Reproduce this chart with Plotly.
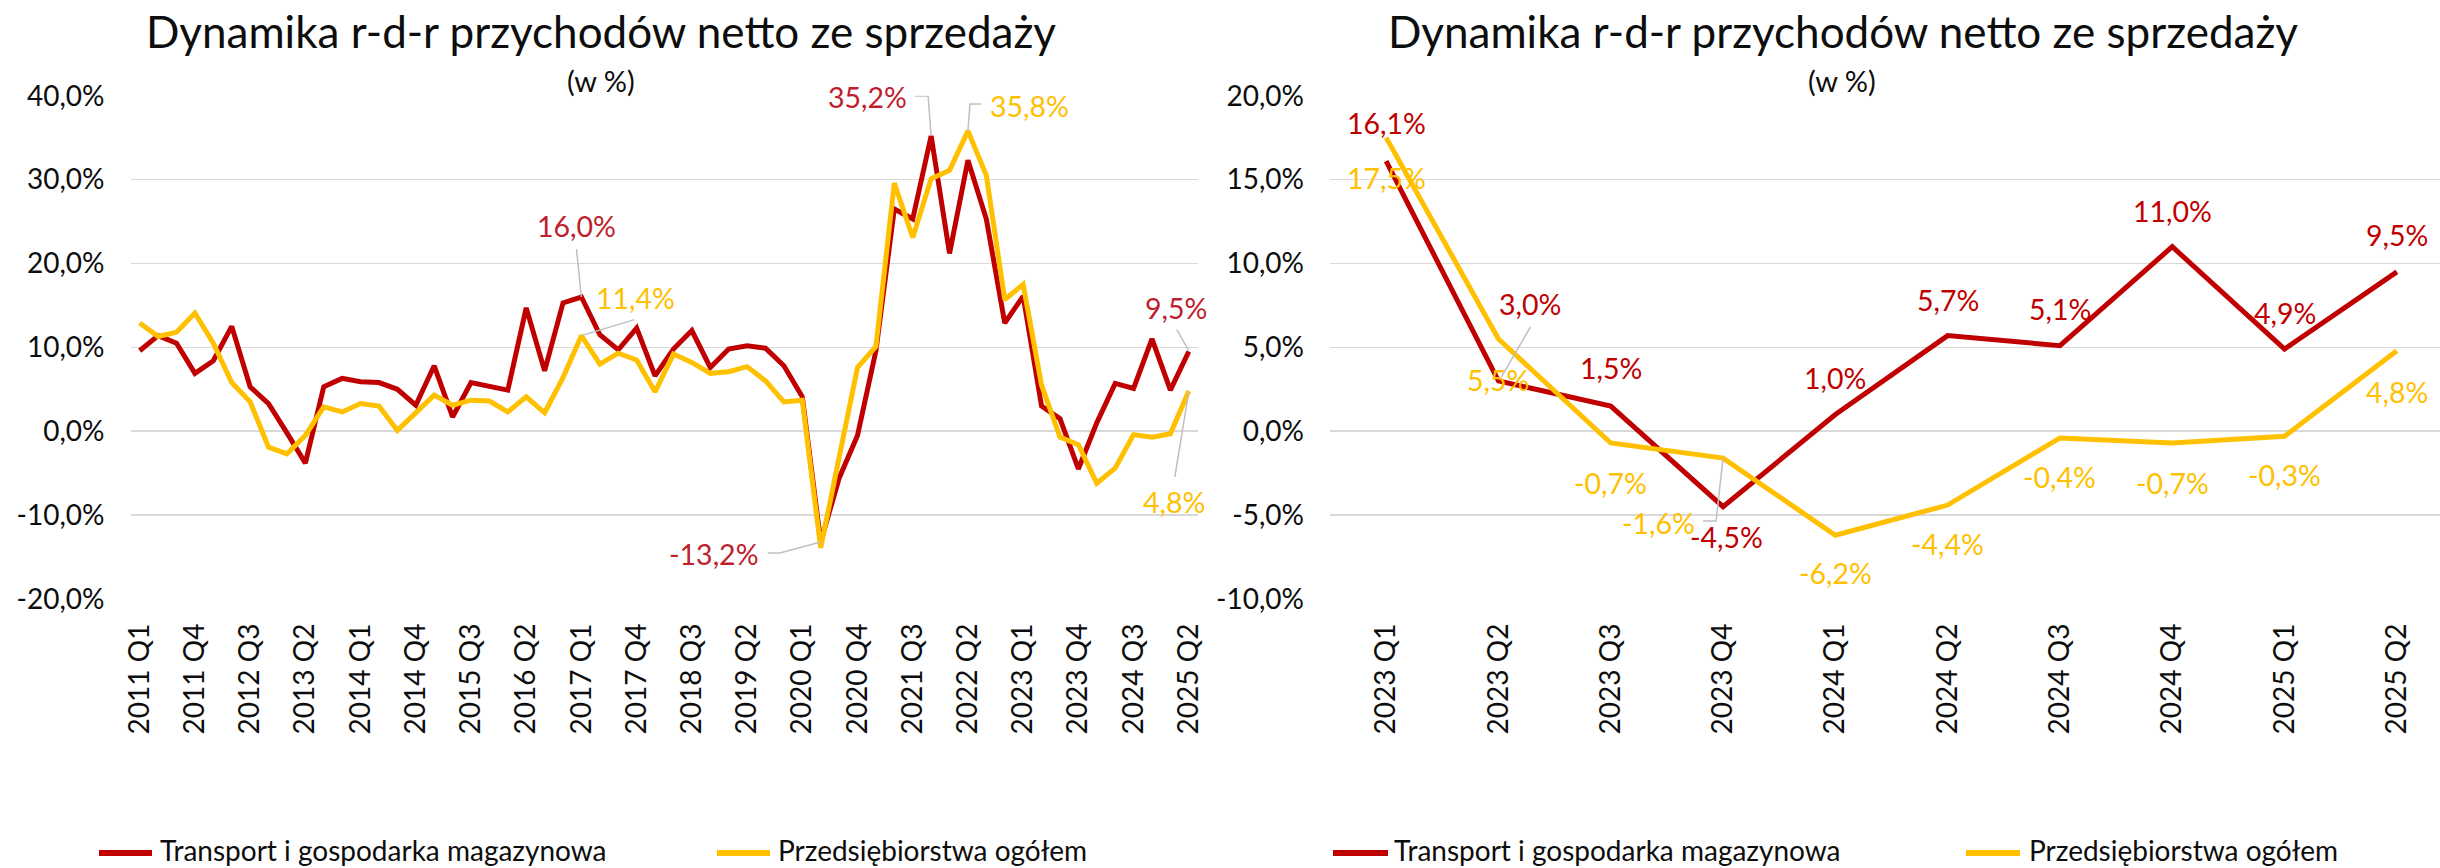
import plotly.graph_objects as go

W, H = 2440, 868
FONT = "Lato"
RED = "#C00000"
RED_TXT_L = "#BE1E2D"
YEL = "#FFC000"
GRID = "#D9D9D9"
LEAD = "#BFBFBF"
TXT = "#0D0D0D"

# ---------------- data ----------------
quarters = [
    "2011 Q1", "2011 Q2", "2011 Q3", "2011 Q4",
    "2012 Q1", "2012 Q2", "2012 Q3", "2012 Q4",
    "2013 Q1", "2013 Q2", "2013 Q3", "2013 Q4",
    "2014 Q1", "2014 Q2", "2014 Q3", "2014 Q4",
    "2015 Q1", "2015 Q2", "2015 Q3", "2015 Q4",
    "2016 Q1", "2016 Q2", "2016 Q3", "2016 Q4",
    "2017 Q1", "2017 Q2", "2017 Q3", "2017 Q4",
    "2018 Q1", "2018 Q2", "2018 Q3", "2018 Q4",
    "2019 Q1", "2019 Q2", "2019 Q3", "2019 Q4",
    "2020 Q1", "2020 Q2", "2020 Q3", "2020 Q4",
    "2021 Q1", "2021 Q2", "2021 Q3", "2021 Q4",
    "2022 Q1", "2022 Q2", "2022 Q3", "2022 Q4",
    "2023 Q1", "2023 Q2", "2023 Q3", "2023 Q4",
    "2024 Q1", "2024 Q2", "2024 Q3", "2024 Q4",
    "2025 Q1", "2025 Q2",
]
transport = [
    9.6, 11.4, 10.5, 6.9, 8.4, 12.5, 5.3, 3.3, -0.2, -3.8, 5.3, 6.3, 5.9, 5.8, 5.0,
    3.1, 7.8, 1.7, 5.8, 5.4, 4.9, 14.7, 7.2, 15.3, 16.0, 11.5, 9.7, 12.3, 6.6,
    9.8, 12.0, 7.6, 9.8, 10.2, 9.9, 7.8, 4.1, -13.2, -5.6, -0.5, 9.6, 26.5, 25.3,
    35.2, 21.2, 32.3, 25.3, 12.9, 16.1, 3.0, 1.5, -4.5, 1.0, 5.7, 5.1, 11.0, 4.9, 9.5,
]
total = [
    12.9, 11.3, 11.8, 14.1, 10.5, 5.8, 3.5, -1.9, -2.7, -0.5, 2.9, 2.3, 3.3, 3.0, 0.1,
    2.1, 4.3, 3.1, 3.7, 3.6, 2.3, 4.1, 2.2, 6.4, 11.4, 8.0, 9.3, 8.5, 4.7,
    9.2, 8.2, 6.9, 7.1, 7.7, 6.0, 3.5, 3.7, -13.9, -3.3, 7.6, 10.1, 29.6, 23.1,
    30.1, 31.1, 35.8, 30.5, 15.7, 17.5, 5.5, -0.7, -1.6, -6.2, -4.4, -0.4, -0.7, -0.3, 4.8,
]

quarters_r = ["2023 Q1", "2023 Q2", "2023 Q3", "2023 Q4", "2024 Q1",
              "2024 Q2", "2024 Q3", "2024 Q4", "2025 Q1", "2025 Q2"]
transport_r = [16.1, 3.0, 1.5, -4.5, 1.0, 5.7, 5.1, 11.0, 4.9, 9.5]
total_r = [17.5, 5.5, -0.7, -1.6, -6.2, -4.4, -0.4, -0.7, -0.3, 4.8]

left_ticks = quarters[::3]
left_yticks = [-20, -10, 0, 10, 20, 30, 40]
right_yticks = [-10, -5, 0, 5, 10, 15, 20]

title_text = "Dynamika r-d-r przychodów netto ze sprzedaży"
subtitle_text = "(w %)"
name_t = "Transport i gospodarka magazynowa"
name_p = "Przedsiębiorstwa ogółem"


def pct(v):
    return f"{v:.1f}".replace(".", ",") + "%"


def px(x):
    return x / W


def py(y):
    return 1 - y / H


# ---------------- label layout (series, index, xshift, yshift) ----------------
left_labels = [
    ("t", 24, -5, 71), ("p", 24, 54, 38),
    ("t", 43, -64, 39), ("p", 45, 62, 25),
    ("t", 37, -107, -12),
    ("t", 57, -13, 44), ("p", 57, -15, -111),
]
left_leaders = [
    ("t", 24, "M-5,48 L0,0"),
    ("p", 24, "M53,16 L0,0"),
    ("t", 43, "M-16,40 L-3,40 L0,0"),
    ("p", 45, "M13,27 L2,27 L0,0"),
    ("t", 37, "M-53,-11 L-41,-11 L0,0"),
    ("t", 57, "M-12,22 L0,1"),
    ("p", 57, "M-14,-86 L0,-1"),
]
right_labels_t = [(0, 38), (32, 77), (0, 38), (3, -30), (0, 36),
                  (0, 36), (0, 37), (0, 36), (0, 36), (0, 37)]
right_labels_p = [(0, -40), (0, -41), (0, -40), (-65, -65), (0, -38),
                  (0, -39), (0, -39), (0, -40), (0, -39), (0, -41)]
right_leaders = [
    ("t", 1, "M32,54 L3,4"),
    ("p", 3, "M-20,-63 L-7,-63 L0,0"),
]

fig = go.Figure()

fig.add_trace(go.Scatter(x=quarters, y=transport, mode="lines", name=name_t,
                         line=dict(color=RED, width=5), xaxis="x", yaxis="y",
                         showlegend=False))
fig.add_trace(go.Scatter(x=quarters, y=total, mode="lines", name=name_p,
                         line=dict(color=YEL, width=5), xaxis="x", yaxis="y",
                         showlegend=False))
fig.add_trace(go.Scatter(x=quarters_r, y=transport_r, mode="lines", name=name_t,
                         line=dict(color=RED, width=5), xaxis="x2", yaxis="y2",
                         showlegend=False))
fig.add_trace(go.Scatter(x=quarters_r, y=total_r, mode="lines", name=name_p,
                         line=dict(color=YEL, width=5), xaxis="x2", yaxis="y2",
                         showlegend=False))

y_dom = [py(599), py(95.7)]
tickfont = dict(family=FONT, size=28, color=TXT)

axis_common_x = dict(type="category", showgrid=False, showline=False, zeroline=False,
                     ticks="", tickangle=-90, tickfont=tickfont, tickmode="array",
                     ticklabelstandoff=18, fixedrange=True, automargin=False)
axis_common_y = dict(showgrid=True, gridcolor=GRID, gridwidth=1.5, zeroline=False,
                     showline=False, ticks="", tickfont=tickfont, tickmode="array",
                     ticklabelstandoff=25, fixedrange=True, automargin=False)

fig.update_layout(
    width=W, height=H, autosize=False,
    margin=dict(l=0, r=0, t=0, b=0, pad=0, autoexpand=False),
    showlegend=False,
    paper_bgcolor="white", plot_bgcolor="white",
    font=dict(family=FONT, color=TXT),
    xaxis=dict(domain=[px(130.5), px(1198)], range=[-0.5, 57.5],
               categoryorder="array", categoryarray=quarters,
               tickvals=left_ticks, ticktext=left_ticks, anchor="y", **axis_common_x),
    yaxis=dict(domain=y_dom, range=[-20, 40], tickvals=left_yticks,
               ticktext=[pct(v) for v in left_yticks], anchor="x", **axis_common_y),
    xaxis2=dict(domain=[px(1330), 1.0], range=[-0.5, -0.5 + 1110 / 112.3],
                categoryorder="array", categoryarray=quarters_r,
                tickvals=quarters_r, ticktext=quarters_r, anchor="y2", **axis_common_x),
    yaxis2=dict(domain=y_dom, range=[-10, 20], tickvals=right_yticks,
                ticktext=[pct(v) for v in right_yticks], anchor="x2", **axis_common_y),
)

annotations = []
shapes = []

# titles
for cx in (600.5, 1843):
    annotations.append(dict(x=px(cx), y=py(31), xref="paper", yref="paper",
                            text=title_text, showarrow=False, xanchor="center",
                            yanchor="middle", font=dict(family=FONT, size=44, color=TXT)))
for cx in (600.5, 1842):
    annotations.append(dict(x=px(cx), y=py(80), xref="paper", yref="paper",
                            text=subtitle_text, showarrow=False, xanchor="center",
                            yanchor="middle", font=dict(family=FONT, size=29, color=TXT)))

# left data labels
series_l = {"t": (transport, RED_TXT_L), "p": (total, YEL)}
for s, i, dx, dy in left_labels:
    vals, col = series_l[s]
    annotations.append(dict(x=quarters[i], y=vals[i], xref="x", yref="y",
                            text=pct(vals[i]), showarrow=False, xshift=dx, yshift=dy,
                            font=dict(family=FONT, size=28.5, color=col)))
for s, i, path in left_leaders:
    vals, _ = series_l[s]
    shapes.append(dict(type="path", xref="x", yref="y", xsizemode="pixel",
                       ysizemode="pixel", xanchor=i, yanchor=vals[i], path=path,
                       line=dict(color=LEAD, width=1.5), layer="above"))

# right data labels
for i, (dx, dy) in enumerate(right_labels_t):
    annotations.append(dict(x=quarters_r[i], y=transport_r[i], xref="x2", yref="y2",
                            text=pct(transport_r[i]), showarrow=False, xshift=dx, yshift=dy,
                            font=dict(family=FONT, size=28.5, color=RED)))
for i, (dx, dy) in enumerate(right_labels_p):
    annotations.append(dict(x=quarters_r[i], y=total_r[i], xref="x2", yref="y2",
                            text=pct(total_r[i]), showarrow=False, xshift=dx, yshift=dy,
                            font=dict(family=FONT, size=28.5, color=YEL)))
series_r = {"t": transport_r, "p": total_r}
for s, i, path in right_leaders:
    vals = series_r[s]
    shapes.append(dict(type="path", xref="x2", yref="y2", xsizemode="pixel",
                       ysizemode="pixel", xanchor=i, yanchor=vals[i], path=path,
                       line=dict(color=LEAD, width=1.5), layer="above"))

# legends (manual, one per chart)
legend_items = [
    (99, 152, 158, RED, name_t), (717, 770, 776, YEL, name_p),
    (1333, 1388, 1392, RED, name_t), (1966, 2020, 2027, YEL, name_p),
]
for x0, x1, xt, col, name in legend_items:
    shapes.append(dict(type="line", xref="paper", yref="paper", x0=px(x0), x1=px(x1),
                       y0=py(853), y1=py(853), line=dict(color=col, width=6)))
    annotations.append(dict(x=px(xt), y=py(850), xref="paper", yref="paper", text=name,
                            showarrow=False, xanchor="left", yanchor="middle",
                            font=dict(family=FONT, size=28, color=TXT)))

fig.update_layout(annotations=annotations, shapes=shapes)

fig.write_html(
    "out.html",
    config={"displayModeBar": False, "staticPlot": True},
    post_script="document.body.style.margin='0px';document.body.style.overflow='hidden';",
)
